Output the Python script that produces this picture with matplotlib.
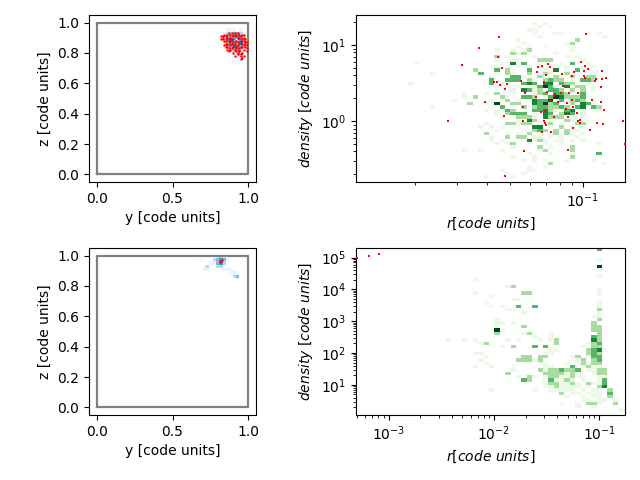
import numpy as np
import matplotlib
matplotlib.use("Agg")
import matplotlib.pyplot as plt

# histogram levels by row (from top) : (column, level)
top_hist = {
 2:[(33,1),(35,1)],3:[(34,1),(36,1)],4:[(32,1),(33,1)],5:[(33,1),(37,1),(38,1),(45,1)],6:[(34,1),(46,1)],
 7:[(41,2),(30,1)],8:[(40,2),(31,1),(39,1)],9:[(30,1),(32,1),(35,1)],
 10:[(32,2),(29,1),(26,1),(31,1),(40,1)],11:[(29,2),(31,2),(30,1),(37,1)],12:[(26,2),(39,1),(41,1),(28,1),(33,1)],
 13:[(29,1),(34,2),(35,2),(36,2),(26,1),(30,1),(42,1)],14:[(29,4),(31,3),(40,3),(34,1),(27,1),(11,1),(38,1),(43,1)],
 15:[(26,1),(30,1),(32,1),(37,1),(42,1),(28,1),(25,1),(39,1),(44,1)],
 16:[(22,2),(26,3),(32,3),(37,4),(41,3),(28,2),(35,1),(39,1),(43,1)],
 17:[(23,3),(28,2),(29,1),(32,2),(35,2),(39,2),(44,1),(14,1),(26,1),(36,1)],
 18:[(29,3),(30,3),(40,2),(43,2),(44,2),(34,2),(25,1),(37,2),(31,1),(38,1)],
 19:[(25,3),(28,3),(29,3),(30,3),(32,2),(36,3),(37,2),(38,2),(42,3),(43,3),(44,2),(35,2),(33,1),(40,1)],
 20:[(25,3),(31,3),(32,4),(33,3),(35,4),(36,4),(38,3),(39,2),(40,2),(10,1),(27,1),(43,1)],
 21:[(34,3),(35,5),(36,3),(39,4),(42,2),(27,1),(41,2),(28,1),(0,1),(30,1),(33,1),(44,1)],
 22:[(31,4),(32,3),(34,2),(36,3),(37,3),(38,2),(42,2),(40,2),(29,1),(33,1),(44,1)],
 23:[(26,2),(33,1),(34,2),(35,3),(37,3),(38,3),(39,2),(42,3),(24,1),(29,1),(41,1),(20,1)],
 24:[(22,2),(27,2),(31,3),(32,3),(36,3),(37,5),(38,4),(39,2),(33,2),(40,2),(41,2),(42,3),(20,1),(28,1),(35,1)],
 25:[(28,2),(30,1),(33,4),(34,3),(35,3),(36,5),(38,3),(40,2),(41,3),(42,2),(18,1),(25,1),(44,1)],
 26:[(21,2),(26,5),(29,2),(30,2),(33,4),(34,3),(35,5),(36,2),(37,3),(40,2),(42,4),(43,3),(24,1),(44,1)],
 27:[(27,3),(31,2),(33,2),(34,3),(35,3),(36,2),(37,2),(38,3),(39,2),(41,3),(42,4),(44,3),(45,2),(14,1),(25,1)],
 28:[(24,1),(28,3),(29,2),(33,3),(34,3),(35,4),(36,2),(37,1),(39,3),(40,4),(26,1),(42,1),(45,1)],
 29:[(28,2),(29,3),(30,3),(31,3),(35,4),(36,3),(38,2),(39,4),(40,3),(26,1),(33,1),(42,1)],
 30:[(31,2),(32,2),(35,4),(36,2),(37,2),(38,2),(33,1),(30,2),(27,1),(40,1),(42,1)],
 31:[(32,4),(33,2),(34,1),(39,2),(40,1),(30,1),(43,1)],
 32:[(28,2),(29,2),(30,1),(31,2),(32,2),(36,2),(38,1),(41,2),(42,2),(24,1),(34,1)],
 33:[(25,1),(30,1),(33,4),(34,4),(36,1),(42,1),(38,2),(23,1),(27,1),(40,1)],
 34:[(33,2),(34,3),(35,2),(37,2),(39,2),(26,1),(31,1),(41,1)],
 35:[(24,2),(28,1),(32,2),(36,1),(37,2),(39,2),(40,1),(42,1),(30,1),(34,1)],
 36:[(28,2),(30,2),(31,2),(33,1),(34,1),(36,1),(38,1),(25,1),(41,1)],
 37:[(25,1),(32,4),(33,1),(34,2),(35,1),(37,1),(38,1),(42,1),(27,1),(40,1)],
 38:[(29,2),(26,1),(28,1),(35,1),(45,1),(32,1),(38,1)],39:[(40,2),(34,2),(29,1),(36,1)],
 40:[(35,2),(40,2),(20,1),(23,1),(27,1),(34,1),(31,1)],41:[(45,3),(40,1),(32,1),(36,1)],42:[(40,2),(33,1),(29,1)],
 43:[(39,1),(33,1),(35,1),(44,1),(31,1)],44:[(36,2),(46,1)],45:[(35,1),(32,1)],46:[(32,1),(33,1),(27,1)],
 47:[(28,1),(31,1)],48:[(29,1),(24,1)],
}
bottom_hist = {
 0:[(45,3)],3:[(45,1)],5:[(45,5)],6:[(45,1)],8:[(45,1)],9:[(22,1)],11:[(28,1),(29,2)],
 12:[(45,1)],13:[(45,1),(32,2),(31,2),(22,1)],14:[(25,1)],15:[(29,1),(30,1)],16:[(45,1),(24,1)],
 17:[(45,1),(33,3),(30,3),(27,1),(25,1)],18:[(45,2),(28,1),(29,1)],19:[(45,1),(31,1)],
 20:[(44,1),(45,1)],21:[(45,2),(26,1)],22:[(44,2),(29,1),(27,1),(26,1)],
 23:[(45,2),(44,2),(31,2),(26,1)],24:[(26,5),(45,2),(44,2),(27,1)],
 25:[(26,2),(45,2),(32,2),(31,1),(36,1)],26:[(44,3),(45,2),(33,1),(36,1)],
 27:[(44,4),(45,2),(37,2),(34,1),(30,1),(36,1),(28,1),(22,1),(17,1),(20,1)],
 28:[(37,2),(44,2),(45,3),(43,1),(24,2),(23,1)],29:[(33,3),(35,3),(29,2),(27,1),(44,2),(45,2),(42,1)],
 30:[(43,2),(44,3),(45,4),(36,1),(37,1),(46,1)],31:[(22,1),(23,1),(35,1),(36,1),(43,2),(44,3),(45,2)],
 32:[(35,2),(34,2),(31,2),(32,2),(41,2),(40,1),(43,1),(44,3),(45,3),(24,1)],
 33:[(30,2),(31,2),(32,2),(34,2),(33,1),(45,3),(44,2),(42,2),(23,1),(41,1)],
 34:[(39,1),(41,1),(44,2),(45,2),(42,2),(35,1),(43,1),(34,1),(24,1)],
 35:[(40,3),(35,1),(43,2),(44,1),(29,1),(22,1),(45,1),(36,1),(41,1),(42,1),(25,1)],
 36:[(41,3),(38,3),(37,2),(36,2),(34,2),(39,2),(40,2),(45,2),(46,2),(43,1),(29,1),(35,1),(44,1)],
 37:[(41,1),(38,2),(35,2),(40,2),(37,2),(36,2),(45,2),(46,2),(44,1),(28,2),(39,1)],
 38:[(37,2),(38,1),(40,2),(30,1),(32,2),(36,2),(33,1),(45,1),(46,1),(42,1),(35,1),(39,1),(41,1)],
 39:[(31,3),(32,2),(36,3),(38,1),(39,2),(46,3),(45,1),(35,1),(37,1),(40,1),(42,1)],
 40:[(36,2),(40,2),(35,1),(37,2),(43,2),(44,1),(46,3),(45,1),(38,1),(39,1),(41,1)],
 41:[(39,1),(41,1),(46,4),(37,2),(35,1),(45,2),(43,1),(36,1),(38,1),(40,1)],
 42:[(47,2),(37,1),(39,1),(40,1),(42,1),(44,1),(36,1),(33,1),(25,1),(38,1),(45,1)],
 43:[(47,3),(38,2),(40,1),(44,1),(45,1),(41,1),(43,1)],44:[(47,2),(42,1),(44,1),(39,1),(45,1)],
 45:[(48,1),(42,1),(45,1),(46,1),(43,1)],
 46:[(43,2),(44,2),(41,1),(48,2),(38,1),(45,1)],47:[(44,1),(41,1)],48:[(49,1)],
}
topleft_hist = {
 4:[(41,1),(42,1),(43,1),(45,1)],5:[(40,1),(41,2),(42,2),(43,3),(44,3),(45,2),(46,1)],
 6:[(40,1),(41,3),(42,3),(43,2),(44,4),(45,3),(46,1)],7:[(41,4),(42,5),(43,3),(44,2),(45,4),(46,2)],
 8:[(41,2),(42,4),(43,4),(44,3),(45,5),(46,2)],9:[(41,1),(42,3),(43,5),(44,4),(45,3),(46,1)],
 10:[(42,2),(43,3),(44,3),(45,2)],11:[(43,1),(44,2),(45,2)],12:[(44,1),(45,1)],
}
bottomleft_hist = {
 2:[(38,1),(39,2),(40,1)],3:[(33,1),(37,2),(38,3),(39,4),(40,3),(41,1)],
 4:[(36,1),(37,1),(38,3),(39,4),(40,2)],5:[(34,1),(35,2),(38,2),(39,2)],
 6:[(34,1),(35,1),(40,1),(41,1),(42,1)],7:[(42,1),(43,1),(44,1)],8:[(43,2),(44,3)],
 9:[(44,1)],
}
level_counts = [0, 1, 5, 8, 11, 14]

top_log_r = [-1.350,-0.989,-1.433,-1.354,-1.503,-1.337,-1.010,-0.993,-0.981,-1.147,-1.172,-1.188,-1.138,-1.192,-1.118,-1.089,-1.039,-0.997,-0.923,-1.155,-1.047,-0.997,-0.993,-0.947,-0.952,-0.923,-0.906,-1.371,-1.358,-1.259,-1.163,-1.346,-1.317,-0.927,-1.084,-1.325,-1.242,-1.151,-1.093,-1.118,-1.122,-1.196,-1.059,-1.022,-1.138,-1.105,-1.068,-1.047,-0.964,-0.927,-1.408,-1.250,-1.043,-1.072,-1.159,-1.176,-0.914,-1.026,-1.329,-1.122,-1.064,-1.562,-1.250,-1.163,-1.159,-1.155,-1.014,-1.022,-1.014,-0.943,-0.918,-0.835,-1.043,-0.972,-1.172,-1.134,-0.827,-1.246,-1.064,-1.325]
top_log_rho = [1.105,1.145,0.961,0.842,0.737,0.697,0.776,0.724,0.684,0.750,0.724,0.711,0.711,0.645,0.658,0.618,0.645,0.658,0.658,0.605,0.592,0.592,0.566,0.553,0.526,0.553,0.566,0.513,0.513,0.526,0.513,0.474,0.487,0.447,0.461,0.421,0.368,0.382,0.368,0.355,0.329,0.316,0.368,0.368,0.263,0.250,0.237,0.276,0.276,0.250,0.250,0.184,0.184,0.158,0.132,0.118,0.145,0.105,0.066,0.053,0.053,0.0,0.0,0.0,-0.026,-0.053,0.013,0.0,-0.026,-0.026,-0.039,0.0,-0.092,-0.118,-0.145,-0.145,-0.303,-0.395,-0.382,-0.724]
bottom_log_r = [-3.30,-3.184,-3.089]
bottom_log_rho = [5.0,5.05,5.115]

top_y = [.83,.84,.85,.86,.87,.88,.89,.90,.91,.92,.93,.94,.95,.96,.97,.98,.99,.84,.85,.83,.84,.86,.87,.85,.86,.88,.97,.98,.99,.98,.97,.99,.96,.95,.97,.94,.93,.92,.91,.90,.89,.88,.87,.86,.85,.96,.93,.95,.92,.94,.96,.90,.88,.87,.86,.85,.95,.93,.91,.90,.89,.92,.94,.96,.93,.91,.98,.90,.92,.94,.95,.97,.82,.83,.82,.86,.88,.90,.91,.93,.95,.98,.99,.97,.96]
top_z = [.90,.92,.91,.92,.93,.92,.93,.92,.93,.92,.93,.92,.91,.92,.90,.89,.87,.88,.86,.89,.85,.84,.83,.89,.86,.88,.85,.84,.83,.86,.82,.81,.80,.79,.78,.81,.80,.83,.82,.84,.83,.85,.81,.82,.84,.77,.79,.76,.81,.83,.86,.91,.90,.87,.90,.88,.88,.87,.86,.89,.86,.84,.90,.89,.85,.78,.87,.80,.88,.82,.78,.88,.89,.91,.91,.85,.82,.87,.91,.90,.84,.87,.85,.92,.84]
bottom_y = [.81,.82,.825]
bottom_z = [.955,.962,.968]


def edges(lo, hi, n=50, shift=0.0):
    return lo + (np.arange(n + 1) + shift) * (hi - lo) / n


def draw_cells(ax, table, xe, ye, cmap, vmax=14):
    grid = np.full((50, 50), np.nan)
    for row, cells in table.items():
        for col, lvl in cells:
            grid[49 - row, col] = level_counts[lvl]
    grid = np.ma.masked_invalid(grid)
    ax.pcolormesh(xe, ye, grid, cmap=cmap, vmin=0, vmax=vmax, linewidth=0)


def draw_left(ax, table, ys, zs):
    ax.set_xlim(-0.05, 1.05)
    ax.set_ylim(-0.05, 1.05)
    draw_cells(ax, table, edges(-0.05, 1.05), edges(-0.05, 1.05), "Blues", vmax=18)
    ax.scatter(ys, zs, s=3, c="red", marker="o", linewidths=0, zorder=3)
    ax.plot([0, 1, 1, 0, 0], [0, 0, 1, 1, 0], color="gray", lw=1.6, zorder=2)
    ax.set_xticks([0, 0.5, 1])
    ax.set_xticklabels(["0.0", "0.5", "1.0"])
    ax.set_yticks([0, .2, .4, .6, .8, 1])
    ax.set_xlabel("y [code units]")
    ax.set_ylabel("z [code units]")


def draw_right(ax, table, lx, ly, xlim, ylim, xshift):
    xe = 10 ** edges(xlim[0], xlim[1], shift=xshift)
    ye = 10 ** edges(ylim[0], ylim[1])
    ax.set_xscale("log")
    ax.set_yscale("log")
    draw_cells(ax, table, xe, ye, "Greens")
    ax.scatter(10 ** np.array(lx), 10 ** np.array(ly), s=3, c="red", marker="s", linewidths=0, zorder=3)
    ax.set_xlim(10 ** xlim[0], 10 ** xlim[1])
    ax.set_ylim(10 ** ylim[0], 10 ** ylim[1])
    ax.set_xlabel(r"$r [code\ units]$")
    ax.set_ylabel(r"$density\ [code\ units]$")


fig = plt.figure(figsize=(6.4, 4.8), dpi=100)
W, H = 640, 480


def add(x0, x1, y0, y1):
    return fig.add_axes([x0 / W, 1 - y1 / H, (x1 - x0) / W, (y1 - y0) / H])


ax1 = add(89, 256, 15, 182)
ax2 = add(356, 625, 15, 182)
ax3 = add(89, 256, 248, 415)
ax4 = add(356, 625, 248, 415)
draw_left(ax1, topleft_hist, top_y, top_z)
draw_left(ax3, bottomleft_hist, bottom_y, bottom_z)
draw_right(ax2, top_hist, top_log_r, top_log_rho, (-1.942, -0.826), (-0.80, 1.395), -0.3)
draw_right(ax4, bottom_hist, bottom_log_r, bottom_log_rho, (-3.31, -0.756), (0.053, 5.30), -0.26)
fig.savefig("out.png", dpi=100)
